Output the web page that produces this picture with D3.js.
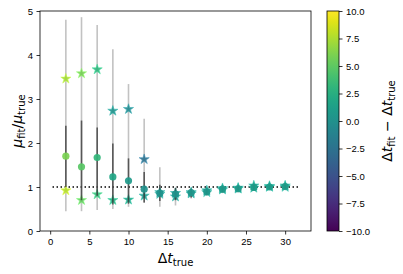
<!DOCTYPE html>
<meta charset="utf-8">
<style>
  body { margin: 0; background: white; }
  svg { font-family: "DejaVu Sans", sans-serif; }
  .tick text { font-size: 9.5px; fill: #000; }
</style>
<body>
<div id="chart"></div>
<script src="https://d3js.org/d3.v7.min.js"></script>
<script>
// data
var dtTrue = [2, 4, 6, 8, 10, 12, 14, 16, 18, 20, 22, 24, 26, 28, 30];
// circles (mean) with dark error bars
var circleMu = [1.70, 1.46, 1.67, 1.23, 1.14, 0.95, 0.86, 0.84, 0.87, 0.89, 0.95, 0.96, 0.99, 1.00, 1.01];
var circleDt = [6.0, 4.8, 3.2, 1.8, 0.8, 0.0, 0.2, 0.3, 0.5, 0.6, 0.8, 0.8, 1.0, 1.0, 1.0];
var darkLo = [1.00, 0.70, 0.80, 0.60, 0.62, 0.65, 0.68, 0.70, 0.76, 0.82, 0.88, 0.90, 0.93, 0.95, 0.96];
var darkHi = [2.39, 2.51, 2.35, 1.99, 1.65, 1.34, 1.05, 0.98, 0.96, 0.96, 1.00, 1.01, 1.05, 1.05, 1.05];
// stars with light grey error bars
var starUpMu = [3.46, 3.58, 3.67, 2.73, 2.77, 1.63, 0.88, 0.86, 0.88, 0.92, 0.97, 0.98, 1.03, 1.02, 1.03];
var starUpDt = [7.2, 5.8, 3.0, 0.3, -0.6, -2.6, 0.4, 0.4, 0.6, 0.7, 0.8, 0.9, 1.0, 1.0, 1.0];
var starLoMu = [0.92, 0.70, 0.83, 0.70, 0.71, 0.80, 0.84, 0.78, 0.85, 0.88, 0.94, 0.96, 0.98, 1.00, 1.00];
var starLoDt = [7.8, 5.2, 3.4, 2.4, 1.6, 0.6, 0.6, 0.6, 0.7, 0.8, 0.9, 1.0, 1.0, 1.0, 1.0];
var greyLo = [0.45, 0.45, 0.48, 0.50, 0.55, 0.64, 0.55, 0.58, 0.74, 0.80, 0.86, 0.88, 0.92, 0.94, 0.95];
var greyHi = [4.80, 4.86, 4.68, 4.13, 3.34, 2.55, 1.45, 0.98, 0.95, 0.97, 1.01, 1.02, 1.07, 1.06, 1.07];

var xTicks = [0, 5, 10, 15, 20, 25, 30];
var yTicks = [0, 1, 2, 3, 4, 5];
var cbTicks = [-10, -7.5, -5, -2.5, 0, 2.5, 5, 7.5, 10];

var W = 403, H = 274;
var plot = { left: 40, right: 311, top: 11, bottom: 231 };

var svg = d3.select("#chart").append("svg")
  .attr("width", W).attr("height", H);

var x = d3.scaleLinear().domain([-1.3, 33.3]).range([plot.left, plot.right]);
var y = d3.scaleLinear().domain([0, 5]).range([plot.bottom, plot.top]);
var cnorm = d3.scaleLinear().domain([-10, 10]).range([0, 1]).clamp(true);
var color = function (v) { return d3.interpolateViridis(cnorm(v)); };

// axes
var gx = svg.append("g")
  .attr("transform", "translate(0," + plot.bottom + ")")
  .call(d3.axisBottom(x).tickValues(xTicks).tickFormat(d3.format("d")).tickSize(3.5).tickPadding(3.5).tickSizeOuter(0));
var gy = svg.append("g")
  .attr("transform", "translate(" + plot.left + ",0)")
  .call(d3.axisLeft(y).tickValues(yTicks).tickFormat(d3.format("d")).tickSize(3.5).tickPadding(3.5).tickSizeOuter(0));
gx.select(".domain").remove();
gy.select(".domain").remove();
svg.selectAll(".tick line").attr("stroke", "#000").attr("stroke-width", 0.8);

// frame
svg.append("rect")
  .attr("x", plot.left).attr("y", plot.top)
  .attr("width", plot.right - plot.left).attr("height", plot.bottom - plot.top)
  .attr("fill", "none").attr("stroke", "#000").attr("stroke-width", 0.8);

// reference line
svg.append("line")
  .attr("x1", x(0.3)).attr("x2", x(31.8))
  .attr("y1", y(1)).attr("y2", y(1))
  .attr("stroke", "#000").attr("stroke-width", 1.5)
  .attr("stroke-dasharray", "1.5,2.5");

var idx = d3.range(dtTrue.length);

// grey error bars
svg.append("g").selectAll("line").data(idx).enter().append("line")
  .attr("x1", function (i) { return x(dtTrue[i]); })
  .attr("x2", function (i) { return x(dtTrue[i]); })
  .attr("y1", function (i) { return y(greyLo[i]); })
  .attr("y2", function (i) { return y(greyHi[i]); })
  .attr("stroke", "#9a9a9a").attr("stroke-opacity", 0.6).attr("stroke-width", 1.6);

var star = d3.symbol().type(d3.symbolStar).size(32);

// stars
function drawStars(mu, dt) {
  svg.append("g").selectAll("path").data(idx).enter().append("path")
    .attr("d", star)
    .attr("transform", function (i) { return "translate(" + x(dtTrue[i]) + "," + y(mu[i]) + ")"; })
    .attr("fill", function (i) { return color(dt[i]); })
    .attr("stroke", function (i) { return d3.color(color(dt[i])).brighter(0.6); })
    .attr("stroke-width", 0.6)
    .attr("opacity", 0.9);
}
drawStars(starLoMu, starLoDt);
drawStars(starUpMu, starUpDt);

// dark error bars
svg.append("g").selectAll("line").data(idx).enter().append("line")
  .attr("x1", function (i) { return x(dtTrue[i]); })
  .attr("x2", function (i) { return x(dtTrue[i]); })
  .attr("y1", function (i) { return y(darkLo[i]); })
  .attr("y2", function (i) { return y(darkHi[i]); })
  .attr("stroke", "#333").attr("stroke-opacity", 0.75).attr("stroke-width", 1.6);

// circles
svg.append("g").selectAll("circle").data(idx).enter().append("circle")
  .attr("cx", function (i) { return x(dtTrue[i]); })
  .attr("cy", function (i) { return y(circleMu[i]); })
  .attr("r", 3.6)
  .attr("fill", function (i) { return color(circleDt[i]); })
  .attr("opacity", 0.92);

// axis labels
svg.append("text")
  .attr("x", (plot.left + plot.right) / 2).attr("y", 263)
  .attr("text-anchor", "middle").attr("font-size", 14)
  .html('Δ<tspan font-style="italic">t</tspan><tspan font-size="10" dy="3">true</tspan>');

svg.append("text")
  .attr("transform", "translate(22," + ((plot.top + plot.bottom) / 2) + ") rotate(-90)")
  .attr("text-anchor", "middle").attr("font-size", 14)
  .html('<tspan font-style="italic">μ</tspan><tspan font-size="10" dy="3">fit</tspan><tspan dy="-3">/</tspan><tspan font-style="italic">μ</tspan><tspan font-size="10" dy="3">true</tspan>');

// colorbar
var cb = { left: 327, right: 339 };
var defs = svg.append("defs");
var grad = defs.append("linearGradient").attr("id", "viridis")
  .attr("x1", 0).attr("y1", 1).attr("x2", 0).attr("y2", 0);
d3.range(0, 1.0001, 0.05).forEach(function (t) {
  grad.append("stop").attr("offset", t).attr("stop-color", d3.interpolateViridis(t));
});
var cy = d3.scaleLinear().domain([-10, 10]).range([plot.bottom, plot.top]);
svg.append("rect")
  .attr("x", cb.left).attr("y", plot.top)
  .attr("width", cb.right - cb.left).attr("height", plot.bottom - plot.top)
  .attr("fill", "url(#viridis)").attr("stroke", "#000").attr("stroke-width", 0.8);
var gc = svg.append("g")
  .attr("transform", "translate(" + cb.right + ",0)")
  .call(d3.axisRight(cy).tickValues(cbTicks).tickFormat(function (d) { return d3.format(".1f")(d).replace("-", "\u2212"); })
    .tickSize(3.5).tickPadding(3.5).tickSizeOuter(0));
gc.select(".domain").remove();
gc.selectAll(".tick line").attr("stroke", "#000").attr("stroke-width", 0.8);

svg.append("text")
  .attr("transform", "translate(392," + ((plot.top + plot.bottom) / 2) + ") rotate(-90)")
  .attr("text-anchor", "middle").attr("font-size", 14)
  .html('Δ<tspan font-style="italic">t</tspan><tspan font-size="10" dy="3">fit</tspan><tspan dy="-3"> − Δ</tspan><tspan font-style="italic">t</tspan><tspan font-size="10" dy="3">true</tspan>');
</script>
</body>
